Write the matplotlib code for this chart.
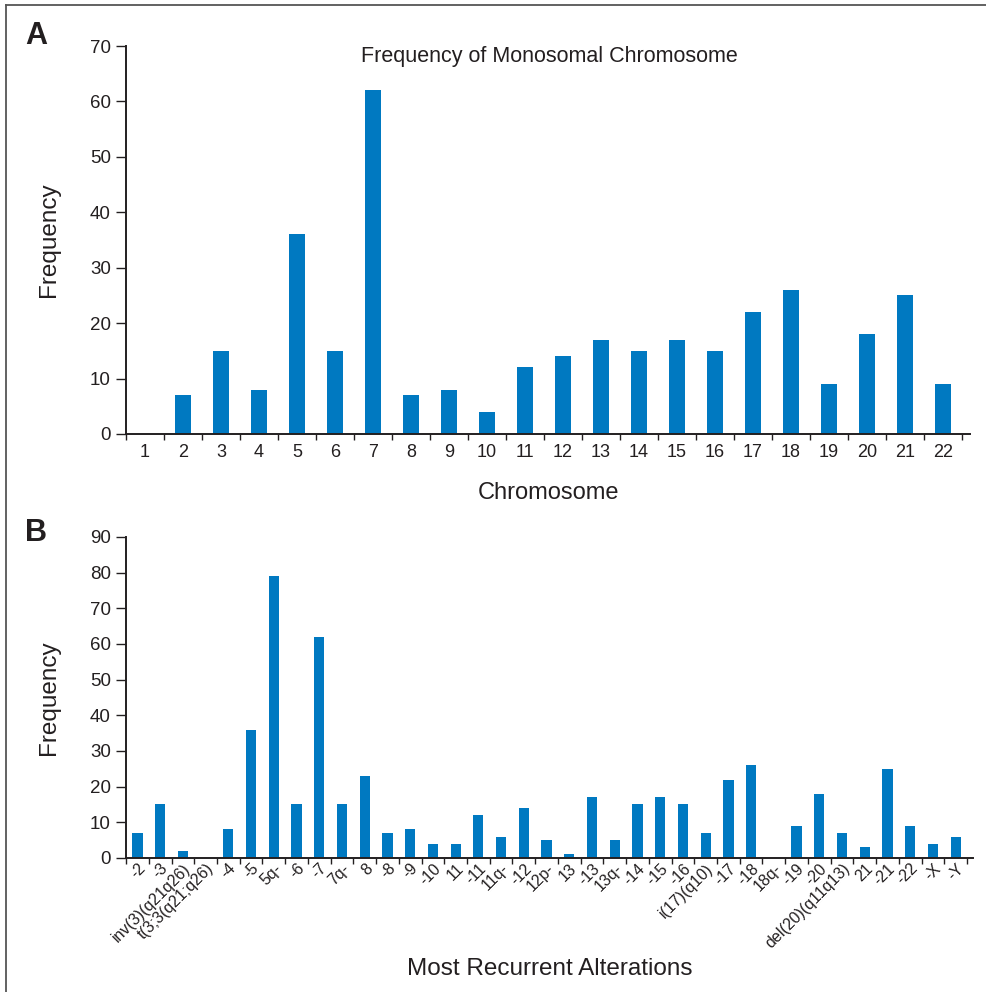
import matplotlib.pyplot as plt
from matplotlib.lines import Line2D

plt.rcParams['font.family'] = ['Liberation Sans', 'DejaVu Sans']

# Panel A : fréquence des chromosomes monosomiques
chromosomes = [str(i) for i in range(1, 23)]
freq_mono = [0, 7, 15, 8, 36, 15, 62, 7, 8, 4, 12, 14, 17, 15, 17, 15, 22, 26, 9, 18, 25, 9]

# Panel B : altérations les plus récurrentes
alterations = ['-2', '-3', 'inv(3)(q21q26)', 't(3;3(q21;q26)', '-4', '-5', '5q-', '-6', '-7', '7q-',
               '8', '-8', '-9', '-10', '11', '-11', '11q-', '-12', '12p-', '13', '-13', '13q-',
               '-14', '-15', '-16', 'i(17)(q10)', '-17', '-18', '18q-', '-19', '-20',
               'del(20)(q11q13)', '21', '-21', '-22', '-X', '-Y']
freq_alt = [7, 15, 2, 0, 8, 36, 79, 15, 62, 15, 23, 7, 8, 4, 4, 12, 6, 14, 5, 1, 17, 5,
            15, 17, 15, 7, 22, 26, 0, 9, 18, 7, 3, 25, 9, 4, 6]

bleu = '#0079C1'
noir = '#231F20'

fig = plt.figure(figsize=(9.87, 9.92), dpi=100)

def style_axes(ax, n, xmax, ymax):
    for s in ['top', 'right']:
        ax.spines[s].set_visible(False)
    for s in ['left', 'bottom']:
        ax.spines[s].set_color(noir)
        ax.spines[s].set_linewidth(1.4)
    ax.set_xlim(0.5, xmax)
    ax.set_ylim(0, ymax)
    ax.set_yticks(range(0, ymax + 1, 10))
    # petits traits entre les catégories
    ax.set_xticks([i + 0.5 for i in range(n + 1)], minor=True)
    ax.tick_params(axis='x', which='minor', length=4, width=1, color=noir, direction='out')
    ax.tick_params(axis='x', which='major', length=0, colors=noir)
    ax.tick_params(axis='y', length=7, width=1, color=noir, labelsize=13.5, labelcolor=noir, pad=4)

# --- Panel A ---
axA = fig.add_axes([0.1277, 0.5625, 0.8551, 0.3911])
xa = list(range(1, len(chromosomes) + 1))
axA.bar(xa, freq_mono, width=0.42, color=bleu)
style_axes(axA, len(chromosomes), 22.71, 70)
axA.set_xticks(xa)
axA.set_xticklabels(chromosomes, fontsize=13)
axA.tick_params(axis='x', which='major', pad=7)
axA.set_xlabel('Chromosome', fontsize=17, color=noir, labelpad=15)
axA.set_ylabel('Frequency', fontsize=17.5, color=noir)
axA.yaxis.set_label_coords(-0.078, 0.5)
axA.text(0.502, 0.974, 'Frequency of Monosomal Chromosome', transform=axA.transAxes,
         ha='center', va='center', fontsize=15.5, color=noir)

# --- Panel B ---
axB = fig.add_axes([0.1277, 0.1351, 0.8581, 0.3236])
xb = list(range(1, len(alterations) + 1))
axB.bar(xb, freq_alt, width=0.45, color=bleu)
style_axes(axB, len(alterations), 37.76, 90)
axB.set_xticks(xb)
axB.set_xticklabels(alterations, rotation=45, ha='right', rotation_mode='anchor', fontsize=11.5)
axB.tick_params(axis='x', which='major', pad=2)
axB.set_xlabel('Most Recurrent Alterations', fontsize=17.5, color=noir, labelpad=5)
axB.set_ylabel('Frequency', fontsize=17.5, color=noir)
axB.yaxis.set_label_coords(-0.078, 0.5)

# lettres des panneaux
fig.text(25 / 987, 1 - 36 / 992, 'A', fontsize=22, fontweight='bold', color=noir, va='center')
fig.text(25 / 987, 1 - 533 / 992, 'B', fontsize=22, fontweight='bold', color=noir, va='center')

# cadre (bords gauche et haut visibles)
fig.add_artist(Line2D([6 / 987, 6 / 987], [0, 1 - 5 / 992], color='#555555', lw=1.3))
fig.add_artist(Line2D([6 / 987, 1], [1 - 5 / 992, 1 - 5 / 992], color='#555555', lw=1.3))

fig.savefig('out.png', dpi=100)
